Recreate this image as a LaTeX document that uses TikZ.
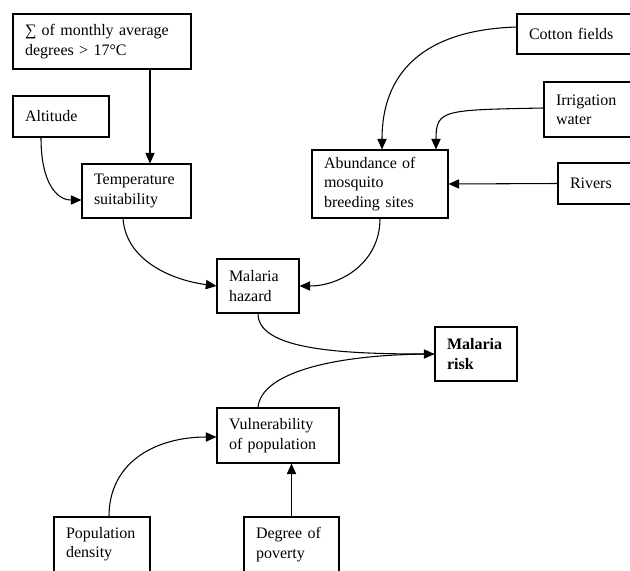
\documentclass[tikz,border=0pt]{standalone}
\usepackage{fontspec}
\setmainfont{Liberation Serif}
\usetikzlibrary{arrows.meta}
\tikzset{
	>={Triangle[length=8pt,width=7pt]},
	box/.style={draw, line width=0.8pt, align=left, inner xsep=9pt, inner ysep=0pt,
		font=\fontsize{12}{14.5}\selectfont},
	link/.style={->, line width=0.8pt}
}

\begin{document}
\begin{tikzpicture}[x=0.75pt,y=-0.75pt]
	\useasboundingbox (0,0) rectangle (630,570);
	\clip (0,0) rectangle (630,570);
	
	% hazard side
	\node[box,text width=115.5pt,minimum height=41.25pt] (sum) at (102,41.5)
	{∑ of monthly average\\degrees > 17°C};
	\node[box,text width=54pt,minimum height=30.75pt] (alt) at (61,116.5) {Altitude};
	\node[box,text width=63.75pt,minimum height=40.5pt] (temp) at (136.5,191)
	{Temperature\\suitability};
	
	\node[box,text width=79.5pt,minimum height=30pt] (cotton) at (582,34) {Cotton fields};
	\node[box,text width=64.5pt,minimum height=41.25pt] (irr) at (599,109.5)
	{Irrigation\\water};
	\node[box,text width=57pt,minimum height=30.75pt] (rivers) at (608,183.5) {Rivers};
	\node[box,text width=84pt,minimum height=51pt] (abund) at (380,184)
	{Abundance of\\mosquito\\breeding sites};
	
	\node[box,text width=43.5pt,minimum height=40.5pt] (hazard) at (258,286)
	{Malaria\\hazard};
	\node[box,text width=43.5pt,minimum height=40.5pt,font=\fontsize{12}{14.5}\selectfont\bfseries]
	(risk) at (476,354) {Malaria\\risk};
	
	% vulnerability side
	\node[box,text width=73.5pt,minimum height=41.25pt] (vuln) at (278,435.5)
	{Vulnerability\\of population};
	\node[box,text width=54pt,minimum height=41.25pt] (popd) at (102,544.5)
	{Population\\density};
	\node[box,text width=53.25pt,minimum height=41.25pt] (pov) at (291.5,544.5)
	{Degree of\\poverty};
	
	% connectors
	\draw[link] (sum.south -| 150,0) -- (temp.north -| 150,0);
	\draw[link] (alt.south -| 41,0) .. controls +(0,45) and +(-25,0) .. (temp.west |- 0,200);
	\draw[link] (temp.south -| 123,0) .. controls +(3,42) and +(-45,-6) .. (hazard.west);
	\draw[link] (abund.south) .. controls +(0,45) and +(40,0) .. (hazard.east);
	
	\draw[link] (cotton.west |- 0,27) .. controls +(-95,3) and +(0,-75) .. (abund.north -| 382,0);
	\draw[link] (irr.west |- 0,108) .. controls +(-100,2) and +(0,-40) .. (abund.north -| 436,0);
	\draw[link] (rivers.west) -- (abund.east);
	
	\draw[link] (hazard.south) .. controls +(0,35) and +(-100,0) .. (risk.west);
	\draw[link,-] (vuln.north -| 258,0) .. controls +(3,-35) and +(-100,0) .. (risk.west);
	
	\draw[link] (popd.north -| 109,0) .. controls +(0,-55) and +(-60,0) .. (vuln.west |- 0,437);
	\draw[link] (pov.north) -- (vuln.south -| pov.north);
	
\end{tikzpicture}
\end{document}
